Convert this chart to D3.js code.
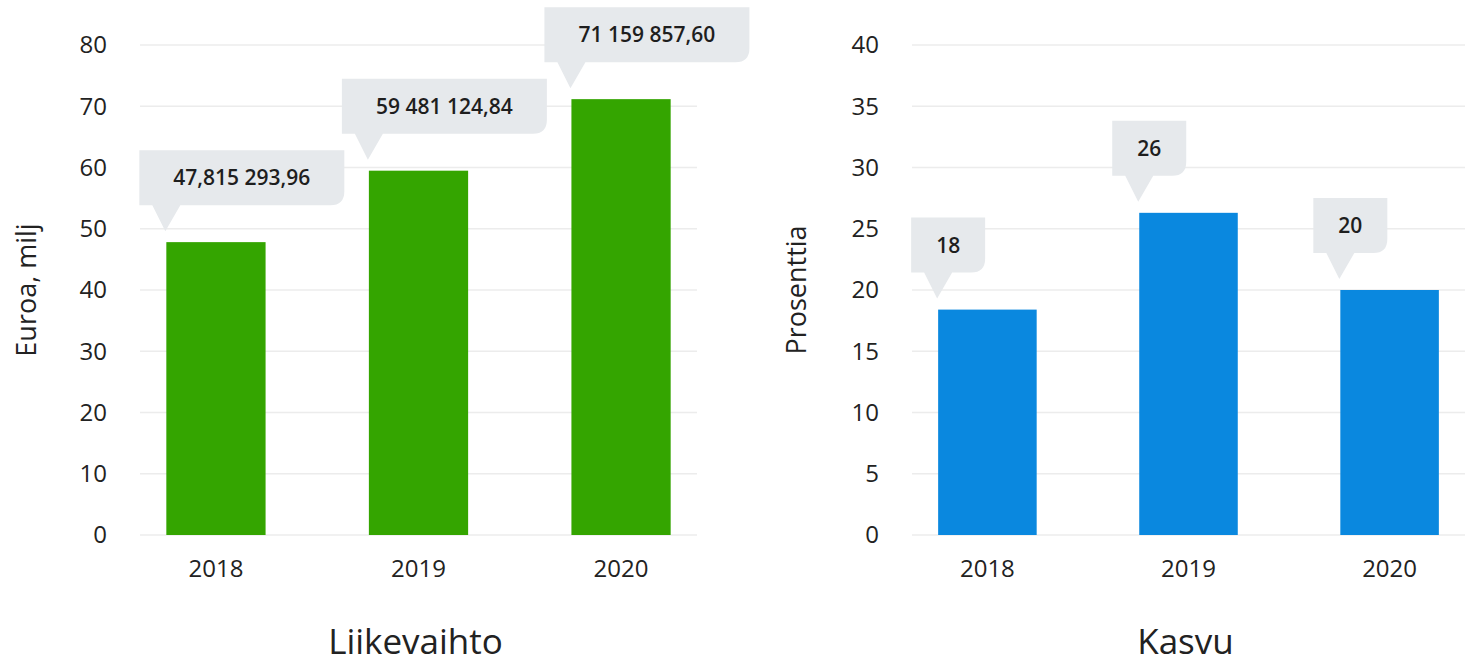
<!DOCTYPE html>
<html lang="fi">
<head>
    <meta charset="UTF-8">
    <title>Liikevaihto ja kasvu</title>
    <script src="https://d3js.org/d3.v7.min.js"></script>
    <style>
        body { margin: 0; background: #ffffff; }
        svg { display: block; font-family: "Open Sans", "Noto Sans", sans-serif; }
        .grid line { stroke: #ececec; stroke-width: 1.5; }
        .tick-label { font-size: 24px; fill: #222; }
        .axis-title { font-size: 27px; fill: #222; }
        .chart-title { font-size: 35px; fill: #222; }
        .callout path { fill: #e6e9ec; }
        .callout text { font-size: 21px; font-weight: 600; fill: #1e1e1e; }
    </style>
</head>
<body>
    <svg width="1480" height="665" id="charts"></svg>
    <script>
        // data
        const years = ["2018", "2019", "2020"];
        const revenue = [47.815, 59.481, 71.160];
        const revenueLabels = ["47,815 293,96", "59 481 124,84", "71 159 857,60"];
        const growth = [18.4, 26.3, 20.0];
        const growthLabels = ["18", "26", "20"];
        const revenueTicks = [0, 10, 20, 30, 40, 50, 60, 70, 80];
        const growthTicks = [0, 5, 10, 15, 20, 25, 30, 35, 40];

        const svg = d3.select("#charts");
        const plotTop = 45, plotBottom = 535;

        function drawChart(opt) {
            const g = svg.append("g");

            const x = d3.scaleBand()
                .domain(years)
                .range([opt.left, opt.right])
                .paddingInner(0.51)
                .paddingOuter(0.13);

            const y = d3.scaleLinear()
                .domain([0, d3.max(opt.ticks)])
                .range([plotBottom, plotTop]);

            // gridlines
            g.append("g").attr("class", "grid")
                .selectAll("line")
                .data(opt.ticks)
                .join("line")
                .attr("x1", opt.left)
                .attr("x2", opt.right)
                .attr("y1", d => y(d))
                .attr("y2", d => y(d));

            // y tick labels
            g.selectAll(".ytick")
                .data(opt.ticks)
                .join("text")
                .attr("class", "tick-label")
                .attr("x", opt.left - 33)
                .attr("y", d => y(d))
                .attr("dy", "0.35em")
                .attr("text-anchor", "end")
                .text(d => d);

            // x tick labels
            g.selectAll(".xtick")
                .data(years)
                .join("text")
                .attr("class", "tick-label")
                .attr("x", d => x(d) + x.bandwidth() / 2)
                .attr("y", 577)
                .attr("text-anchor", "middle")
                .text(d => d);

            // bars
            g.selectAll(".bar")
                .data(opt.values)
                .join("rect")
                .attr("x", (d, i) => x(years[i]))
                .attr("y", d => y(d))
                .attr("width", x.bandwidth())
                .attr("height", d => y(0) - y(d))
                .attr("fill", opt.color);

            // callouts
            const bw = opt.boxWidth, bh = 55, r = 14;
            const callouts = g.selectAll(".callout")
                .data(opt.values)
                .join("g")
                .attr("class", "callout")
                .attr("transform", (d, i) => {
                    const bx = x(years[i]);
                    const tipY = y(d) - 11;
                    return `translate(${bx},${tipY})`;
                });

            callouts.append("path")
                .attr("d", () => {
                    const x0 = -27, x1 = x0 + bw;
                    const yb = -26, yt = yb - bh;
                    return `M${x0},${yt} H${x1} V${yb - r} Q${x1},${yb} ${x1 - r},${yb}` +
                        ` H${x0 + 41} L-1,0 L${x0 + 13},${yb} H${x0} Z`;
                });

            callouts.append("text")
                .attr("x", -27 + bw / 2)
                .attr("y", -26 - bh / 2)
                .attr("dy", "0.36em")
                .attr("text-anchor", "middle")
                .text((d, i) => opt.labels[i]);

            // axis title
            g.append("text")
                .attr("class", "axis-title")
                .attr("transform", `translate(${opt.titleX},${(plotTop + plotBottom) / 2}) rotate(-90)`)
                .attr("text-anchor", "middle")
                .attr("dy", "0.35em")
                .text(opt.axisTitle);

            // chart title
            g.append("text")
                .attr("class", "chart-title")
                .attr("x", (opt.left + opt.right) / 2 - 3)
                .attr("y", 654)
                .attr("text-anchor", "middle")
                .text(opt.title);
        }

        drawChart({
            left: 140, right: 697,
            values: revenue, labels: revenueLabels, ticks: revenueTicks,
            color: "#34a500", boxWidth: 205,
            axisTitle: "Euroa, milj", titleX: 27, title: "Liikevaihto"
        });

        drawChart({
            left: 912, right: 1465,
            values: growth, labels: growthLabels, ticks: growthTicks,
            color: "#0a88df", boxWidth: 74,
            axisTitle: "Prosenttia", titleX: 797, title: "Kasvu"
        });
    </script>
</body>
</html>
